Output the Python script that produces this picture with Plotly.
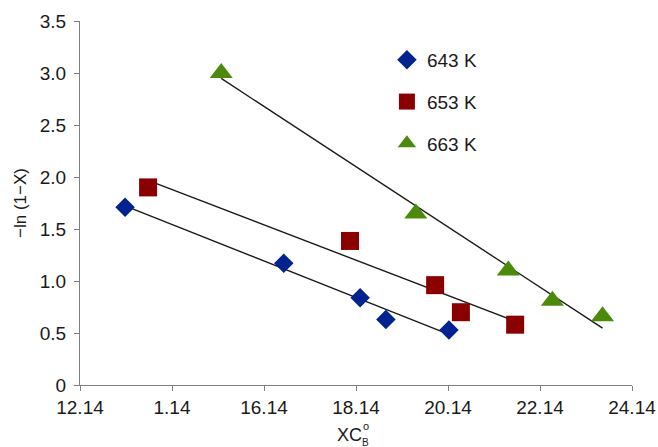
import numpy as np
import plotly.graph_objects as go

# Conversion data: -ln(1-X) against X*C_B0 at three temperatures
x_643 = [13.12, 16.57, 18.23, 18.79, 20.16]
y_643 = [1.71, 1.17, 0.84, 0.63, 0.53]

x_653 = [13.62, 18.01, 19.86, 20.42, 21.60]
y_653 = [1.90, 1.385, 0.96, 0.70, 0.58]

x_663 = [15.21, 19.44, 21.45, 22.41, 23.50]
y_663 = [3.00, 1.65, 1.10, 0.81, 0.66]

series_names = ["643 K", "653 K", "663 K"]

x_tick_vals = [12.14, 14.14, 16.14, 18.14, 20.14, 22.14, 24.14]
x_tick_text = ["12.14", "1.14", "16.14", "18.14", "20.14", "22.14", "24.14"]
y_tick_vals = [0, 0.5, 1.0, 1.5, 2.0, 2.5, 3.0, 3.5]
y_tick_text = ["0", "0.5", "1.0", "1.5", "2.0", "2.5", "3.0", "3.5"]

FONT = "Arial, Liberation Sans, Helvetica, sans-serif"
INK = "#1a1a1a"
styles = [
    dict(symbol="diamond", size=15, color="#00238F"),
    dict(symbol="square", size=18, color="#8A0000"),
    dict(symbol="triangle-up", size=20, color="#4D8A0C"),
]

fig = go.Figure()

datasets = [(x_643, y_643), (x_653, y_653), (x_663, y_663)]

# least-squares trend lines spanning each series' x range
for xs, ys in datasets:
    xs_a = np.array(xs)
    slope, icpt = np.polyfit(xs_a, np.array(ys), 1)
    xl = np.array([xs_a.min(), xs_a.max()])
    fig.add_trace(go.Scatter(
        x=xl, y=slope * xl + icpt, mode="lines",
        line=dict(color=INK, width=1.4),
        showlegend=False, hoverinfo="skip",
    ))

for (xs, ys), name, st in zip(datasets, series_names, styles):
    fig.add_trace(go.Scatter(
        x=xs, y=ys, mode="markers", name=name, legendgroup=name,
        marker=dict(symbol=st["symbol"], size=st["size"], color=st["color"],
                    line=dict(width=0)),
    ))

axis_common = dict(
    showgrid=False, zeroline=False, showline=True, automargin=False,
    linecolor="#7f7f7f", linewidth=1.2,
    ticks="outside", ticklen=5, tickcolor="#7f7f7f", tickwidth=1.2,
    tickfont=dict(family=FONT, size=19, color=INK),
)

fig.update_xaxes(
    range=[12.14, 24.14], tickmode="array",
    tickvals=x_tick_vals, ticktext=x_tick_text,
    **axis_common,
)
fig.update_yaxes(
    range=[0, 3.5], tickmode="array",
    tickvals=y_tick_vals, ticktext=y_tick_text,
    ticklabelstandoff=4,
    title=dict(text="\u2212ln (1\u2212X)", font=dict(family=FONT, size=17, color=INK),
               standoff=8),
    **axis_common,
)

# x-axis title XC with stacked superscript "o" and subscript "B"
fig.add_annotation(
    text="XC", xref="paper", yref="paper", x=0.489, y=-0.136,
    xanchor="center", yanchor="middle", showarrow=False,
    font=dict(family=FONT, size=18, color=INK),
)
fig.add_annotation(
    text="o", xref="paper", yref="paper", x=0.518, y=-0.112,
    xanchor="center", yanchor="middle", showarrow=False,
    font=dict(family=FONT, size=11, color=INK),
)
fig.add_annotation(
    text="B", xref="paper", yref="paper", x=0.518, y=-0.159,
    xanchor="center", yanchor="middle", showarrow=False,
    font=dict(family=FONT, size=10, color=INK),
)

fig.update_layout(
    width=658, height=447,
    margin=dict(l=80, r=26, t=21, b=62),
    paper_bgcolor="white", plot_bgcolor="white",
    showlegend=True,
    legend=dict(
        x=0.556, y=0.945, xanchor="left", yanchor="top",
        font=dict(family=FONT, size=19, color=INK),
        tracegroupgap=14, bgcolor="rgba(0,0,0,0)",
        itemsizing="trace",
    ),
)

fig.write_html("out.html")
